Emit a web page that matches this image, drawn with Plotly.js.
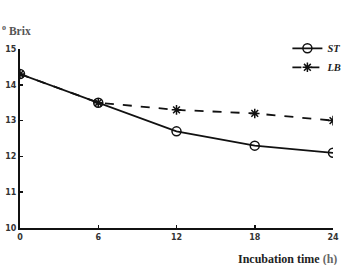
<!DOCTYPE html>
<html><head><meta charset="utf-8">
<script src="https://cdn.plot.ly/plotly-3.0.1.min.js"></script>
<style>html,body{margin:0;padding:0;background:#fff}#c{width:342px;height:265px}</style>
</head><body><div id="c"></div>
<script>
const hours = [0, 6, 12, 18, 24];
const stValues = [14.3, 13.5, 12.7, 12.3, 12.1];
const lbValues = [14.3, 13.5, 13.3, 13.2, 13.0];
const xTicks = [0, 6, 12, 18, 24];
const yTicks = [10, 11, 12, 13, 14, 15];

const traces = [
  {x: hours, y: stValues, name: 'ST', mode: 'lines+markers', type: 'scatter',
   line: {color: '#111', width: 1.8},
   marker: {symbol: 'circle-open', size: 9, color: '#111', line: {width: 1.5}}},
  {x: hours, y: lbValues, name: 'LB', mode: 'lines+markers', type: 'scatter',
   line: {color: '#111', width: 1.8, dash: 'dash'},
   marker: {symbol: 'asterisk-open', size: 8, color: '#111', line: {width: 1.5, color: '#111'}}}
];

const tickFont = {family: 'DejaVu Sans', size: 8, color: '#333', weight: 'bold'};
const layout = {
  width: 342, height: 265,
  margin: {l: 20, r: 9, t: 49, b: 37, autoexpand: false},
  paper_bgcolor: '#fff', plot_bgcolor: '#fff',
  showlegend: true,
  legend: {x: 1.046, y: 1.085, xanchor: 'right', yanchor: 'top',
           font: {family: 'Liberation Serif', size: 10.5, color: '#222', style: 'italic', weight: 'bold'},
           itemwidth: 30, tracegroupgap: 0, bgcolor: 'rgba(0,0,0,0)'},
  xaxis: {range: [0, 24], tickvals: xTicks, ticks: 'inside', ticklen: 3, tickwidth: 1.5, tickcolor: '#111',
          showline: true, linecolor: '#111', linewidth: 2, showgrid: false, zeroline: false,
          tickfont: tickFont, automargin: false},
  yaxis: {range: [10, 15], tickvals: yTicks, ticks: 'inside', ticklen: 3, tickwidth: 1.5, tickcolor: '#111',
          showline: true, linecolor: '#111', linewidth: 2, showgrid: false, zeroline: false,
          tickfont: tickFont, automargin: false},
  annotations: [
    {xref: 'paper', yref: 'paper', x: -0.064, y: 1.106, xanchor: 'left', yanchor: 'middle', showarrow: false,
     text: '<b><sup>o</sup> Brix</b>', font: {family: 'Liberation Serif', size: 11.5, color: '#555'}},
    {xref: 'paper', yref: 'paper', x: 1.02, y: -0.173, xanchor: 'right', yanchor: 'middle', showarrow: false,
     text: '<b>Incubation time <span style="color:#666">(h)</span></b>',
     font: {family: 'Liberation Serif', size: 12, color: '#222'}}
  ]
};
Plotly.newPlot('c', traces, layout, {displayModeBar: false, staticPlot: true});
</script></body></html>
